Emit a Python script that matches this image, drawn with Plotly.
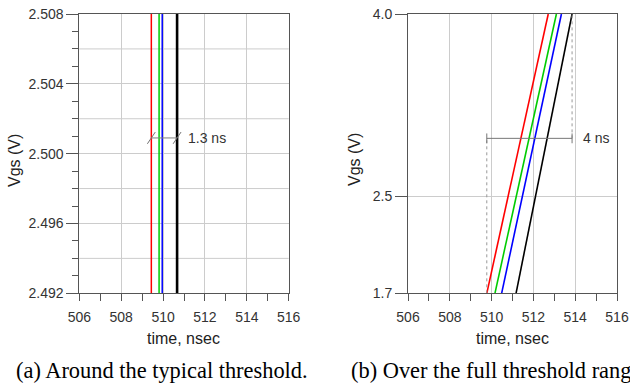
import numpy as np
import plotly.graph_objects as go

# ---------------- data ----------------
series_names = ["red", "green", "blue", "black"]
series_colors = ["#ff0000", "#00cc00", "#0000ff", "#000000"]

# (a) around the typical threshold: crossing times (lines look vertical at this zoom)
a_volts = [2.492, 2.508]
a_times = [509.44, 509.81, 509.96, 510.67]

# (b) over the full threshold range
b_volts = [1.7, 4.0]
b_times_low = [509.77, 510.16, 510.48, 511.17]
b_times_high = [512.71, 513.10, 513.34, 513.85]

x_ticks = [506, 508, 510, 512, 514, 516]
x_minor = [507, 509, 511, 513, 515]
a_yticks = [2.492, 2.496, 2.500, 2.504, 2.508]
a_ygrid_extra = [2.494, 2.498, 2.502, 2.506]
a_yminor = [round(2.492 + 0.001 * k, 3) for k in range(17)]
b_yticks = [1.7, 2.5, 4.0]

a_delta_label = "1.3 ns"
a_delta_volt = 2.5009
b_delta_label = "4 ns"
b_delta_volt = 2.976

x_title = "time, nsec"
y_title = "Vgs (V)"
caption_a = "(a) Around the typical threshold."
caption_b = "(b) Over the full threshold range."

# ---------------- layout geometry ----------------
W, H = 630, 386
def px(x):
    return x / W
def py(y):
    return 1 - y / H

top, bottom = 14, 293.3
dom_a = [px(79.3), px(288.7)]
dom_b = [px(408), px(617)]
ydom = [py(bottom), py(top)]

sans = "Liberation Sans, Arial, sans-serif"
serif = "Liberation Serif, Times New Roman, serif"
tickfont = dict(family=sans, size=14, color="#333333")
axcol = "#555555"
gridcol = "#cccccc"

fig = go.Figure()

# panel (a) curves
for name, col, t in zip(series_names, series_colors, a_times):
    fig.add_trace(go.Scatter(
        x=[t, t], y=a_volts, mode="lines", name=name,
        line=dict(color=col, width=2.6 if name == "black" else 1.5),
        xaxis="x", yaxis="y", showlegend=False, hoverinfo="skip"))

# panel (b) curves
for name, col, t0, t1 in zip(series_names, series_colors, b_times_low, b_times_high):
    fig.add_trace(go.Scatter(
        x=[t0, t1], y=b_volts, mode="lines", name=name,
        line=dict(color=col, width=1.6),
        xaxis="x2", yaxis="y2", showlegend=False, hoverinfo="skip"))

# (a) delta marker
fig.add_trace(go.Scatter(
    x=[a_times[0], a_times[-1]], y=[a_delta_volt, a_delta_volt],
    mode="lines+markers", line=dict(color="#808080", width=1),
    marker=dict(symbol="line-ne", size=10, angle=-11,
                line=dict(color="#707070", width=1)),
    xaxis="x", yaxis="y", showlegend=False, hoverinfo="skip", cliponaxis=False))

# (b) delta marker with dotted guides
fig.add_trace(go.Scatter(
    x=[b_times_low[0], b_times_low[0]], y=[b_volts[0], b_delta_volt],
    mode="lines", line=dict(color="#999999", width=1, dash="dot"),
    xaxis="x2", yaxis="y2", showlegend=False, hoverinfo="skip"))
fig.add_trace(go.Scatter(
    x=[b_times_high[-1], b_times_high[-1]], y=[b_delta_volt, b_volts[1]],
    mode="lines", line=dict(color="#999999", width=1, dash="dot"),
    xaxis="x2", yaxis="y2", showlegend=False, hoverinfo="skip"))
fig.add_trace(go.Scatter(
    x=[b_times_low[0], b_times_high[-1]], y=[b_delta_volt, b_delta_volt],
    mode="lines+markers", line=dict(color="#777777", width=1),
    marker=dict(symbol="line-ns", size=7, line=dict(color="#777777", width=1)),
    xaxis="x2", yaxis="y2", showlegend=False, hoverinfo="skip"))

# extra horizontal grid lines for panel (a)
shapes = []
for v in a_ygrid_extra:
    shapes.append(dict(type="line", xref="x domain", yref="y", x0=0, x1=1,
                       y0=v, y1=v, layer="below",
                       line=dict(color=gridcol, width=1)))

xaxis_common = dict(
    range=[506, 516], tickmode="array", tickvals=x_ticks,
    ticktext=[str(v) for v in x_ticks],
    ticks="outside", ticklen=7, tickcolor=axcol, tickwidth=1,
    ticklabelstandoff=4,
    minor=dict(tickmode="array", tickvals=x_minor,
               ticks="outside", ticklen=7, tickcolor=axcol, showgrid=False),
    showgrid=True, gridcolor=gridcol, gridwidth=1,
    showline=True, mirror=True, linecolor=axcol, linewidth=1,
    zeroline=False, tickfont=tickfont, fixedrange=True, automargin=False)

annotations = [
    dict(x=a_times[-1], y=a_delta_volt, xref="x", yref="y", text=a_delta_label,
         xanchor="left", yanchor="middle", xshift=9, showarrow=False,
         font=dict(family=sans, size=14, color="#333333")),
    dict(x=b_times_high[-1], y=b_delta_volt, xref="x2", yref="y2", text=b_delta_label,
         xanchor="left", yanchor="middle", xshift=9, showarrow=False,
         font=dict(family=sans, size=14, color="#333333")),
    dict(x=(dom_a[0] + dom_a[1]) / 2, y=py(338), xref="paper", yref="paper",
         text=x_title, showarrow=False, xanchor="center", yanchor="middle",
         font=dict(family=sans, size=16, color="#222222")),
    dict(x=(dom_b[0] + dom_b[1]) / 2, y=py(338), xref="paper", yref="paper",
         text=x_title, showarrow=False, xanchor="center", yanchor="middle",
         font=dict(family=sans, size=16, color="#222222")),
    dict(x=px(15), y=py(161), xref="paper", yref="paper", text=y_title,
         textangle=-90, showarrow=False, xanchor="center", yanchor="middle",
         font=dict(family=sans, size=16, color="#222222")),
    dict(x=px(355), y=py(160), xref="paper", yref="paper", text=y_title,
         textangle=-90, showarrow=False, xanchor="center", yanchor="middle",
         font=dict(family=sans, size=16, color="#222222")),
    dict(x=px(161.5), y=py(370), xref="paper", yref="paper", text=caption_a,
         showarrow=False, xanchor="center", yanchor="middle",
         font=dict(family=serif, size=22.4, color="#000000")),
    dict(x=px(349), y=py(370), xref="paper", yref="paper", text=caption_b,
         showarrow=False, xanchor="left", yanchor="middle",
         font=dict(family=serif, size=22.4, color="#000000")),
]

fig.update_layout(
    width=W, height=H,
    margin=dict(l=0, r=0, t=0, b=0, pad=0, autoexpand=False),
    paper_bgcolor="white", plot_bgcolor="white",
    showlegend=False,
    xaxis=dict(domain=dom_a, anchor="y", **xaxis_common),
    xaxis2=dict(domain=dom_b, anchor="y2", **xaxis_common),
    yaxis=dict(domain=ydom, anchor="x", range=[2.492, 2.508],
               tickmode="array", tickvals=a_yticks,
               ticktext=[f"{v:.3f}" for v in a_yticks],
               ticks="outside", ticklen=12, tickcolor=axcol,
               minor=dict(tickmode="array", tickvals=a_yminor, ticks="outside",
                          ticklen=6, tickcolor=axcol, showgrid=False),
               showgrid=True, gridcolor=gridcol, showline=True, mirror=True,
               linecolor=axcol, zeroline=False, tickfont=tickfont, fixedrange=True,
               automargin=False),
    yaxis2=dict(domain=ydom, anchor="x2", range=[1.7, 4.0],
                tickmode="array", tickvals=b_yticks,
                ticktext=[f"{v:.1f}" for v in b_yticks],
                ticks="outside", ticklen=12, tickcolor=axcol,
                showgrid=True, gridcolor=gridcol, showline=True, mirror=True,
                linecolor=axcol, zeroline=False, tickfont=tickfont, fixedrange=True,
                automargin=False),
    shapes=shapes,
    annotations=annotations,
)

fig.write_html("out.html", config=dict(displayModeBar=False),
               post_script="document.body.style.margin='0px';document.body.style.overflow='hidden';")
